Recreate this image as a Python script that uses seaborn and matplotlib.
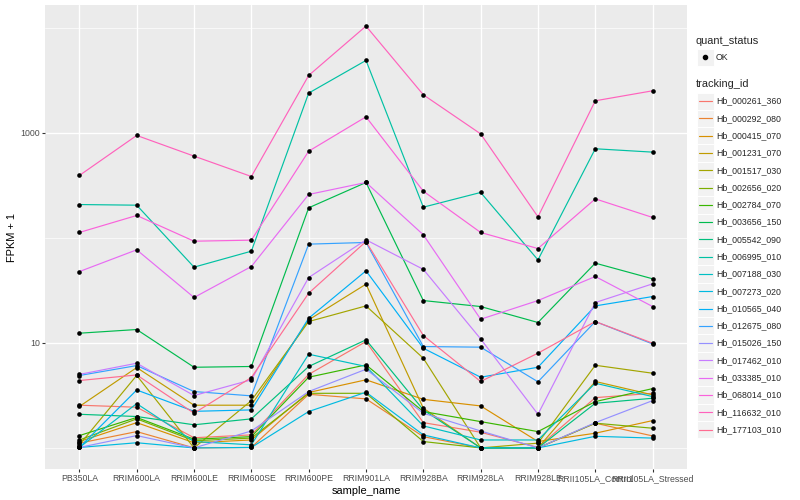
import numpy as np
import pandas as pd
import matplotlib
matplotlib.use("Agg")
import matplotlib.pyplot as plt
import seaborn as sns
from matplotlib.lines import Line2D
from matplotlib.patches import Rectangle
from matplotlib.ticker import FixedLocator, FixedFormatter, NullFormatter

samples = ["PB350LA", "RRIM600LA", "RRIM600LE", "RRIM600SE", "RRIM600PE", "RRIM901LA",
           "RRIM928BA", "RRIM928LA", "RRIM928LE", "RRII105LA_Control", "RRII105LA_Stressed"]

tracking_ids = ["Hb_000261_360", "Hb_000292_080", "Hb_000415_070", "Hb_001231_070", "Hb_001517_030",
                "Hb_002656_020", "Hb_002784_070", "Hb_003656_150", "Hb_005542_090", "Hb_006995_010",
                "Hb_007188_030", "Hb_007273_020", "Hb_010565_040", "Hb_012675_080", "Hb_015026_150",
                "Hb_017462_010", "Hb_033385_010", "Hb_068014_010", "Hb_116632_010", "Hb_177103_010"]

# FPKM values per gene, in sample order
hb_000261_360 = [1.55, 1.44, 0.25, 0.33, 4.01, 9.30, 0.74, 0.41, 0.01, 2.01, 2.31]
hb_000292_080 = [0.11, 0.43, 0.0, 0.01, 2.24, 1.93, 0.28, 0.0, 0.0, 0.72, 0.30]
hb_000415_070 = [0.15, 0.74, 0.12, 0.19, 2.37, 3.45, 1.90, 1.51, 0.15, 0.38, 0.82]
hb_001231_070 = [1.48, 4.82, 1.55, 1.55, 15.56, 35.22, 1.39, 0.0, 0.0, 3.29, 2.20]
hb_001517_030 = [0.07, 3.90, 0.0, 1.82, 14.96, 21.49, 6.14, 0.0, 0.11, 5.12, 4.14]
hb_002656_020 = [0.19, 0.89, 0.17, 0.24, 2.31, 2.31, 0.15, 0.0, 0.0, 0.72, 0.54]
hb_002784_070 = [0.31, 0.95, 0.21, 0.28, 3.71, 5.17, 1.22, 0.78, 0.43, 1.76, 2.67]
hb_003656_150 = [11.36, 12.40, 4.86, 4.96, 192.2, 335.5, 24.29, 21.18, 14.63, 56.41, 39.74]
hb_005542_090 = [1.09, 0.99, 0.66, 0.89, 4.96, 9.69, 1.30, 0.0, 0.0, 1.66, 1.97]
hb_006995_010 = [206.5, 203.6, 51.6, 73.64, 2387, 4886, 194.9, 269.4, 60.66, 703.7, 653.6]
hb_007188_030 = [0.01, 1.64, 0.15, 0.07, 6.80, 4.96, 0.62, 0.19, 0.19, 3.13, 2.08]
hb_007273_020 = [0.01, 0.12, 0.0, 0.01, 1.22, 2.39, 0.33, 0.0, 0.0, 0.29, 0.24]
hb_010565_040 = [0.01, 2.56, 1.23, 1.30, 16.18, 47.53, 7.89, 3.71, 4.86, 21.49, 26.61]
hb_012675_080 = [3.89, 5.08, 2.44, 2.13, 86.10, 89.36, 8.23, 8.10, 3.26, 14.96, 8.77]
hb_015026_150 = [0.01, 0.31, 0.0, 0.45, 2.44, 4.61, 1.14, 0.45, 0.0, 0.74, 1.82]
hb_017462_010 = [4.01, 5.40, 2.15, 3.45, 40.88, 94.72, 49.12, 9.91, 1.09, 23.21, 35.48]
hb_033385_010 = [46.75, 75.91, 26.04, 52.33, 257.8, 335.5, 105.9, 15.79, 24.29, 41.85, 21.18]
hb_068014_010 = [111.5, 162.3, 91.90, 94.06, 667.3, 1418, 277.0, 111.5, 78.07, 234.0, 155.3]
hb_116632_010 = [391.6, 943.0, 598.8, 382.7, 3515, 10374, 2300, 976.0, 157.5, 2017, 2511]
hb_177103_010 = [3.38, 3.95, 1.14, 3.68, 28.72, 91.26, 10.75, 3.29, 6.98, 14.96, 8.93]

series_values = [hb_000261_360, hb_000292_080, hb_000415_070, hb_001231_070, hb_001517_030,
                 hb_002656_020, hb_002784_070, hb_003656_150, hb_005542_090, hb_006995_010,
                 hb_007188_030, hb_007273_020, hb_010565_040, hb_012675_080, hb_015026_150,
                 hb_017462_010, hb_033385_010, hb_068014_010, hb_116632_010, hb_177103_010]

palette = ["#F8766D", "#EA8331", "#D89000", "#C09B00", "#A3A500", "#7CAE00", "#39B600", "#00BB4E",
           "#00BF7D", "#00C1A3", "#00BFC4", "#00BAE0", "#00B0F6", "#35A2FF", "#9590FF", "#C77CFF",
           "#E76BF3", "#FA62DB", "#FF62BC", "#FF6C91"]

rows = []
for tid, vals in zip(tracking_ids, series_values):
    for s, v in zip(samples, vals):
        rows.append({"tracking_id": tid, "sample_name": s, "fpkm": v, "quant_status": "OK"})
df = pd.DataFrame(rows)
df["fpkm1"] = df["fpkm"] + 1

W, H = 800, 500
sns.set_theme(style="white")
plt.rcParams["font.family"] = ["Liberation Sans", "DejaVu Sans"]

fig = plt.figure(figsize=(W / 100, H / 100), dpi=100)
ax = fig.add_axes([45 / W, 1 - 469 / H, (687 - 45) / W, (469 - 5) / H])
ax.set_facecolor("#EBEBEB")
for sp in ax.spines.values():
    sp.set_visible(False)

sns.lineplot(data=df, x="sample_name", y="fpkm1", hue="tracking_id", hue_order=tracking_ids,
             palette=palette, sort=False, estimator=None, units="tracking_id",
             linewidth=0.85, legend=False, ax=ax, zorder=3)
sns.scatterplot(data=df, x="sample_name", y="fpkm1", color="black", s=11, linewidth=0,
                marker="o", legend=False, ax=ax, zorder=4)

ax.set_yscale("log")
lo = np.log10(df["fpkm1"].min())
hi = np.log10(df["fpkm1"].max())
pad = (hi - lo) * 0.05
ax.set_ylim(10 ** (lo - pad), 10 ** (hi + pad))
ax.set_xlim(-0.6, len(samples) - 1 + 0.6)

ax.yaxis.set_major_locator(FixedLocator([10, 1000]))
ax.yaxis.set_major_formatter(FixedFormatter(["10", "1000"]))
ax.yaxis.set_minor_locator(FixedLocator([1, 100, 10000]))
ax.yaxis.set_minor_formatter(NullFormatter())

ax.grid(True, which="major", color="white", linewidth=1.0, zorder=0)
ax.grid(True, which="minor", axis="y", color="white", linewidth=0.5, zorder=0)
ax.set_axisbelow(True)

ax.tick_params(axis="both", which="major", length=2.0, width=0.8, color="#333333",
               labelcolor="#4D4D4D", labelsize=6.3, pad=1.6, direction="out",
               bottom=True, left=True)
ax.tick_params(axis="y", which="minor", length=0)

ax.set_xlabel("sample_name", fontsize=7.9, color="black", labelpad=2.0)
ax.set_ylabel("FPKM + 1", fontsize=7.9, color="black", labelpad=2.5)


def fx(px):
    return px / W


def fy(py):
    return 1 - py / H


key = 17.28
kx = 696.8
fig.text(fx(696), fy(40.7), "quant_status", fontsize=7.9, ha="left", va="center")
cy = 57.3
fig.add_artist(Rectangle((fx(kx), fy(cy + key / 2)), key / W, key / H, transform=fig.transFigure,
                         facecolor="#F2F2F2", edgecolor="white", linewidth=0.7))
fig.add_artist(Line2D([fx(kx + key / 2)], [fy(cy)], transform=fig.transFigure, marker="o",
                      markersize=3.0, color="black", linestyle=""))
fig.text(fx(716), fy(cy), "OK", fontsize=6.3, ha="left", va="center")

fig.text(fx(696), fy(84.2), "tracking_id", fontsize=7.9, ha="left", va="center")
for i, (tid, col) in enumerate(zip(tracking_ids, palette)):
    cy = 101.2 + i * key
    fig.add_artist(Rectangle((fx(kx), fy(cy + key / 2)), key / W, key / H, transform=fig.transFigure,
                             facecolor="#F2F2F2", edgecolor="white", linewidth=0.7))
    fig.add_artist(Line2D([fx(kx + 1.7), fx(kx + key - 1.7)], [fy(cy), fy(cy)],
                          transform=fig.transFigure, color=col, linewidth=0.85))
    fig.text(fx(716), fy(cy), tid, fontsize=6.3, ha="left", va="center")

fig.savefig("out.png", dpi=100, facecolor="white")
